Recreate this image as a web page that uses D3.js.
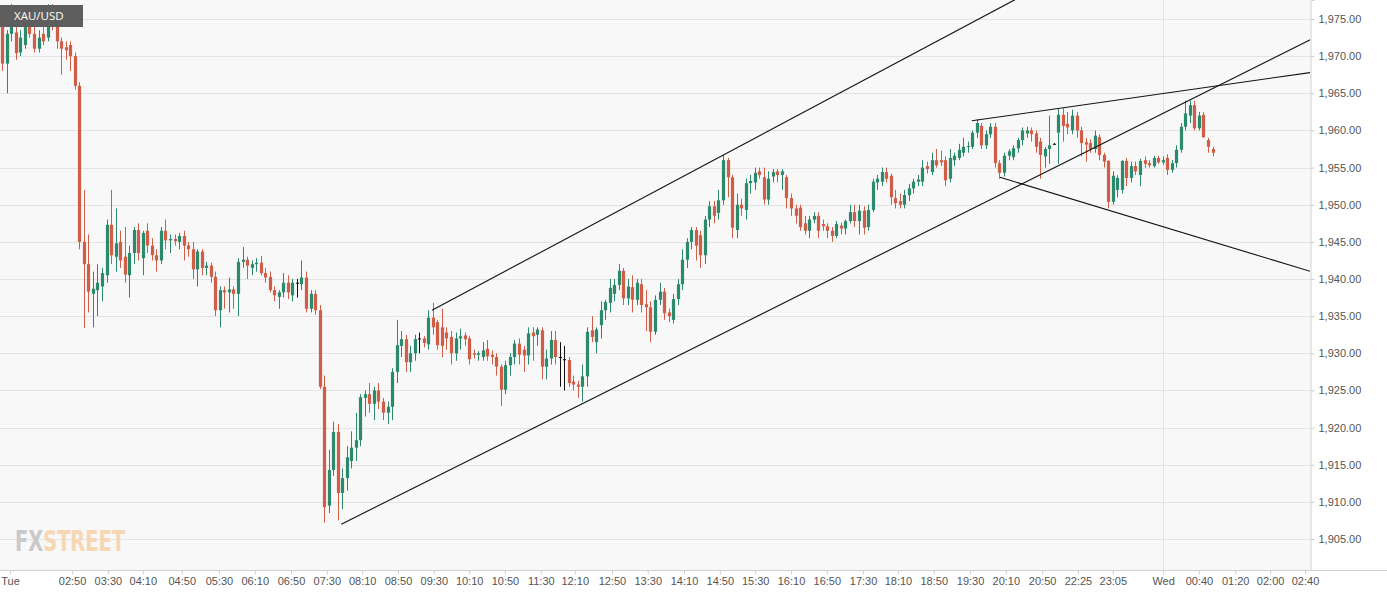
<!DOCTYPE html>
<html><head><meta charset="utf-8">
<script src="https://cdn.jsdelivr.net/npm/d3@7"></script>
<style>body{margin:0;background:#fff;font-family:"Open Sans",Arial,sans-serif}</style>
</head><body><div id="chart"></div>
<script>
// OHLC, 5-minute candles [open, high, low, close]; doji flagged separately
const candles = [
[1975,1975.5,1968,1969],[1969,1973.5,1965,1973],[1973,1977,1972,1976.5],
[1973.2,1974,1969.5,1970.4],[1970.5,1973.5,1970,1972.5],[1971.5,1975,1971,1974.5],
[1974.5,1975,1972.5,1973],[1973,1974,1970.5,1971],[1971,1973.5,1970.5,1972.5],[1973,1975,1971.5,1972],
[1972.5,1977,1972,1976.5],[1976.5,1977,1973.5,1974],[1974.5,1975,1971,1972],[1972,1972.5,1967.5,1971],
[1971.2,1972,1969.5,1970.8],[1971.5,1972,1968,1970],[1970,1970.5,1965.5,1966],[1966,1966.5,1944,1945],
[1945,1952,1933.4,1942],[1942,1946,1935.5,1938.3],[1938,1941,1933.5,1938.7],[1938.5,1942,1935,1939.5],
[1939,1941.5,1937,1940.8],[1940.5,1948,1939.5,1947.3],[1947.3,1952,1942,1943.2],[1943,1949.5,1941,1944.8],
[1945,1946.5,1941.5,1942.5],[1943,1947,1939.5,1940.6],[1940.5,1944.5,1937.5,1943.5],[1943.5,1947,1942,1946.6],
[1946.6,1947.5,1942.5,1943.5],[1942.8,1946.5,1940.5,1946.2],[1946.5,1947.5,1943.5,1944.5],[1944.5,1945.5,1942.5,1943.2],
[1943.2,1944,1941,1942.5],[1942.5,1947,1942,1946.5],[1946.5,1948,1944,1945.2],[1945.2,1946,1943.5,1945.4],[1945.4,1946,1944.5,1945.1],
[1945,1946.2,1944,1945.8],[1945.8,1946.5,1942.5,1944.5],[1944.5,1945,1943,1944],[1944,1945,1940,1941.3],
[1941.3,1944,1939,1943.7],[1943.7,1944,1940.5,1941.5],[1941.5,1942.3,1940.5,1941.8],[1941.8,1942.2,1939.5,1940.3],
[1940.3,1941,1935,1935.8],[1935.8,1939,1933.5,1938.5],[1938.5,1939,1936,1938.2],[1938.2,1940.2,1935.5,1938.6],
[1938.6,1939,1936,1938],[1938,1942.8,1935,1942.3],[1942.3,1944.3,1941.5,1942.6],[1942.6,1943,1940,1941.8],
[1941.5,1942.5,1940.5,1942],[1942,1942.8,1941,1942.2],[1942.2,1943.1,1940.5,1940.8],[1940.8,1941.5,1939.5,1940.2],[1940.3,1941,1938.2,1938.5],
[1938.5,1939,1937,1937.8],[1937.6,1938.5,1936,1938.2],[1938.2,1940.8,1937.5,1939.5],[1939.5,1940.5,1937.3,1938.2],
[1937.8,1940,1937,1939.5],[1939.5,1940,1937.5,1939.5],[1939.3,1942.5,1938.5,1940.2],[1940.2,1941,1935.5,1936],
[1936,1938.5,1935.5,1938],[1938,1938.5,1935.2,1935.8],[1935.8,1936.5,1925.2,1925.5],[1925.5,1927,1907.2,1909.3],
[1909.5,1917,1908.5,1914.3],[1914.3,1920.8,1913.5,1919.4],[1919.4,1920.5,1907.5,1911.2],[1911.2,1914.5,1909,1913.2],
[1913.2,1917.5,1911.5,1916],[1915.5,1919.5,1914.5,1917.3],[1917.3,1922,1915.5,1918.3],[1918.3,1924.5,1917.5,1924.1],
[1924,1925,1921.5,1924.5],[1924.5,1926,1922,1923.2],[1923.2,1925.5,1921,1925],[1925,1926,1922.5,1923.5],
[1923.5,1924,1921,1922],[1922,1923.5,1920.5,1922.8],[1922.8,1928,1921,1927.5],[1927.5,1934.5,1926,1931.1],
[1931,1933,1929.5,1931.9],[1931.9,1932.5,1927.5,1928.8],[1928.8,1931,1927.5,1930],[1930,1932.5,1929,1931.9],
[1931.9,1932.8,1930,1932],[1932,1932.3,1930.8,1931.4],[1931.2,1935.8,1930.5,1934.8],[1934.8,1936.8,1932.5,1933.5],
[1934.2,1934.5,1930.5,1931.1],[1933.5,1936,1929.5,1931],[1932.8,1933.5,1930.5,1932],[1932.2,1933,1928.5,1930],
[1930,1932.8,1929,1932],[1932,1933.3,1930.5,1932.3],[1932.4,1932.8,1931,1931.9],[1932,1932.3,1928.5,1929.2],
[1930,1930.5,1929.3,1929.8],[1929.8,1930.3,1929,1930],[1929.5,1931.5,1929,1930.4],[1930.6,1931.8,1929,1929.6],
[1929.8,1930.4,1928.5,1929.5],[1929.5,1930,1927,1928.2],[1928.2,1928.5,1922.9,1925.1],[1925.1,1929,1924.5,1928.4],
[1928.4,1930,1927,1929.5],[1929.5,1931.8,1928.5,1931.3],[1931.3,1932,1928.5,1929.8],[1930.5,1931,1927.5,1929.7],
[1929.7,1933.5,1928.5,1932.7],[1932.8,1933.5,1929,1932.3],[1932.5,1933.5,1931,1933.2],[1933.1,1933.5,1926.5,1928.2],
[1928.2,1930.5,1926.5,1929.3],[1929.3,1933,1928.5,1931.8],[1931.8,1933,1928.5,1929.5],[1929.5,1931.5,1925.5,1929.5],
[1929.2,1931,1925,1929.2],[1929.1,1929.5,1925.5,1926],[1926.2,1927,1925,1925.8],[1925.8,1926.3,1924,1925.5],
[1925.5,1928.5,1923.5,1926.9],[1926.9,1933.5,1925.5,1932.9],[1933.1,1935,1931.5,1932.2],[1931.5,1933.5,1930,1933.2],
[1933.8,1937,1932,1935.8],[1935.8,1937.2,1934.5,1936.9],[1936.8,1940,1935.5,1938.8],[1938,1940,1937,1939.2],
[1939.2,1942,1938.5,1941.1],[1941.1,1941.5,1936.5,1937.4],[1937.4,1940,1936.5,1939],[1938.9,1940.5,1935.5,1937.2],
[1937.2,1940,1936.5,1939.5],[1939.3,1940,1935.5,1936.5],[1936.6,1938.5,1933,1936.2],[1936.2,1937,1931.5,1932.9],
[1932.9,1937.8,1932.5,1937.2],[1937.2,1939.5,1936.5,1938.3],[1938.3,1938.8,1934.5,1935.4],[1935.5,1936,1934.2,1935],
[1934.5,1938,1934,1937.3],[1937.3,1940,1936.5,1939.3],[1939.3,1944,1938.5,1942.6],[1942.6,1945.5,1941.5,1945],
[1945,1947,1944,1946.6],[1946.6,1947,1942.5,1944.5],[1945.9,1946.5,1941.5,1943.2],[1943.2,1948.5,1942,1948],
[1948,1950.5,1947,1949.8],[1949.8,1950.5,1947.5,1948.5],[1948.9,1952,1948,1950.6],[1950.6,1956.7,1950,1956],
[1956,1956.3,1951,1953.7],[1953.7,1954,1945.5,1946.9],[1946.6,1951.5,1945.5,1950],[1950,1950.8,1948.5,1949.5],
[1949.3,1953.5,1948,1952.9],[1952.9,1954,1951.5,1953.2],[1953,1955,1952,1954.3],[1954.5,1955,1953.5,1954],
[1953.7,1955,1950,1950.7],[1950.7,1954.5,1950,1953.5],[1953.8,1954.8,1953,1954.4],[1954.5,1954.8,1953,1954],
[1954,1954.8,1952,1954.5],[1953.7,1954,1949.5,1950.9],[1950.9,1951.5,1948.5,1949.5],[1949.5,1950,1947.5,1948.5],
[1949.6,1950,1946.5,1947],[1947.5,1948.5,1946,1946.5],[1946.5,1948.5,1945.5,1948],[1948,1949,1947.5,1948.5],
[1948.5,1949,1945.5,1946.5],[1947.4,1948,1946.5,1947.1],[1947.1,1947.5,1945.5,1946.5],[1946.5,1947,1945,1945.8],
[1945.8,1947.8,1945.5,1947.4],[1947.2,1947.6,1946,1946.8],[1946.8,1948,1946,1947.8],[1947.8,1950,1947.5,1949],
[1949,1950,1947,1947.8],[1947.8,1950,1946,1949.2],[1949.2,1949.8,1946,1946.9],[1947,1950,1946.5,1949.3],
[1949.3,1953.5,1949,1953.1],[1953,1954,1952,1953.5],[1953.1,1955,1952.5,1954.4],[1954.4,1955,1953,1953.5],
[1953.9,1954.2,1950,1951],[1950.9,1952,1949.5,1950.2],[1950.5,1951.5,1949.5,1950],[1950,1952,1949.5,1951.3],
[1951.3,1952.8,1950.5,1952.2],[1952.2,1953.5,1951.5,1953.1],[1953.1,1954,1952.5,1953.4],[1953.1,1956,1952.5,1955],
[1955.2,1955.8,1954.2,1954.8],[1954.4,1957,1954,1956],[1956,1957.5,1955,1955.3],[1956,1957.3,1955.2,1955.7],
[1956,1956.5,1952.5,1953.3],[1953.5,1957.5,1953,1956.3],[1956,1957,1955.2,1956.6],[1956.3,1958.2,1956,1957.4],
[1957,1959,1956.5,1957.8],[1957.8,1958.5,1957,1957.9],[1957.8,1960,1957.5,1959.7],[1959.7,1961.5,1959,1961],
[1960.6,1961,1957.5,1958],[1958,1960,1957.5,1959.5],[1959.5,1961,1959,1960.5],[1960.5,1961,1955,1955.6],
[1955.6,1956,1953.5,1954.3],[1954.3,1957,1953.8,1956.6],[1956.6,1957.5,1956,1957.2],[1956.4,1958,1956,1957.6],
[1957.6,1959,1957,1958.7],[1958.7,1960.4,1958,1960],[1959.6,1960.5,1959,1960],[1960,1960.4,1958.5,1959.5],
[1959.6,1960,1957,1957.8],[1958.5,1959,1953.5,1956.7],[1956.5,1957.8,1955,1957.5],[1957.5,1962,1955.5,1958],
[1958.2,1958.3,1958.1,1958.2],[1959.7,1963,1955.5,1962.1],[1962.1,1963,1958.5,1960.6],[1960.9,1962.5,1959.5,1960.4],
[1960,1962.8,1959.5,1962],[1962,1962.5,1959,1960],[1960,1960.5,1956.5,1958.3],[1958.4,1959,1955.8,1958.1],
[1958.3,1958.8,1957,1957.5],[1957.5,1960,1957,1959.3],[1959.1,1959.5,1956,1956.7],[1956.7,1957,1955,1955.8],
[1955.9,1956,1949.5,1950.4],[1950.4,1954.5,1950,1953.9],[1952,1954,1951,1953.6],[1952,1956,1951.5,1955.9],
[1955.9,1956.3,1952.5,1953.6],[1953.6,1955.8,1953,1955.2],[1955.2,1955.8,1954,1954.5],[1954,1956.2,1952.5,1955.9],
[1956,1956.5,1955,1955.5],[1955.6,1956,1955,1955.3],[1955.2,1956.6,1955,1956.3],[1956.3,1956.6,1955.5,1955.7],
[1955.7,1956.5,1955.4,1956],[1956.3,1956.8,1954,1954.7],[1954.7,1956,1954.3,1955.6],[1955.6,1958,1955,1957.4],
[1957.4,1961,1957,1960.5],[1960.5,1964,1960,1962.3],[1962,1964,1961,1963.4],[1963.4,1964,1960,1960.3],
[1960.3,1962.5,1960,1962],[1962.1,1962.5,1959,1959.1],[1958.7,1959,1957,1957.8],[1957.5,1957.8,1956.5,1957]
]
const dojiIdx = [65, 92, 123, 124, 232]

const yTicks = [1905,1910,1915,1920,1925,1930,1935,1940,1945,1950,1955,1960,1965,1970,1975]
const xLabels = ["Tue","02:50","03:30","04:10","04:50","05:30","06:10","06:50","07:30","08:10","08:50","09:30","10:10","10:50","11:30","12:10","12:50","13:30","14:10","14:50","15:30","16:10","16:50","17:30","18:10","18:50","19:30","20:10","20:50","22:25","23:05","Wed","00:40","01:20","02:00","02:40"]
const xLabelIdx = [1.7,15.4,23.3,31.0,39.6,47.8,55.7,63.7,71.6,79.4,87.3,95.2,103.0,110.9,118.8,126.3,134.5,142.4,150.4,158.3,166.1,174.0,181.9,189.9,197.6,205.5,213.5,221.4,229.4,237.3,245.0,256.1,264.0,272.0,279.7,287.4]

// trend lines [index, price] pairs
const trendLines = [
  [[94.8,1935.8],[223.4,1977.6]],
  [[74.8,1907.0],[289.8,1972.6]],
  [[213.9,1961.3],[289.8,1967.9]],
  [[220.1,1953.7],[289.8,1940.8]]
]

const W = 1387, H = 598
const plotW = 1310, plotH = 570

const svg = d3.select("#chart").append("svg").attr("width", W).attr("height", H)

const x = d3.scaleLinear().domain([-0.5, 288.5]).range([0, plotW])
const y = d3.scaleLinear().domain([1900.83, 1977.56]).range([plotH, 0])

svg.append("rect").attr("width", plotW).attr("height", plotH).attr("fill", "#f8f8f8")

svg.append("defs").append("clipPath").attr("id", "clip")
  .append("rect").attr("width", plotW).attr("height", plotH)

// grid
svg.append("g").selectAll("line").data(yTicks).join("line")
  .attr("x1", 0).attr("x2", plotW)
  .attr("y1", d => Math.round(y(d)) + 0.5).attr("y2", d => Math.round(y(d)) + 0.5)
  .attr("stroke", "#e3e3e3")
svg.append("line").attr("x1", Math.round(x(256.1)) + 0.5).attr("x2", Math.round(x(256.1)) + 0.5)
  .attr("y1", 0).attr("y2", plotH).attr("stroke", "#e3e3e3")

// watermark
const wm = svg.append("text").attr("x", 15).attr("y", 551)
  .attr("font-family", "'DejaVu Sans Condensed', 'Liberation Sans Narrow', sans-serif").attr("font-weight", 700).attr("font-size", 29)
  .attr("textLength", 110).attr("lengthAdjust", "spacingAndGlyphs")
wm.append("tspan").attr("fill", "#c9c9c9").text("FX")
wm.append("tspan").attr("fill", "#f6d7b2").text("STREET")

// candles
const g = svg.append("g").attr("clip-path", "url(#clip)")
const colorOf = (d, i) => dojiIdx.includes(i) ? "#111" : (d[3] >= d[0] ? "#2b8a6e" : "#d05d45")
const bw = 3.2
const c = g.selectAll("g.c").data(candles).join("g")
c.append("line")
  .attr("x1", (d, i) => Math.round(x(i)) + 0.5).attr("x2", (d, i) => Math.round(x(i)) + 0.5)
  .attr("y1", d => y(d[1])).attr("y2", d => y(d[2]))
  .attr("stroke", colorOf).attr("stroke-width", 1)
c.append("rect")
  .attr("x", (d, i) => Math.round(x(i)) + 0.5 - bw / 2)
  .attr("width", bw)
  .attr("y", d => y(Math.max(d[0], d[3])))
  .attr("height", d => Math.max(1, Math.abs(y(d[0]) - y(d[3]))))
  .attr("fill", colorOf)

// trend lines
g.selectAll("path.t").data(trendLines).join("path")
  .attr("d", d3.line().x(d => x(d[0])).y(d => y(d[1])))
  .attr("stroke", "#111").attr("stroke-width", 1.1).attr("fill", "none")

// right axis
const yAxis = svg.append("g").attr("transform", `translate(${plotW + 0.5},0)`)
  .call(d3.axisRight(y).tickValues(yTicks).tickSize(4).tickFormat(d3.format(",.2f")))
yAxis.select(".domain").attr("stroke", "#cfcfcf")
yAxis.selectAll(".tick line").attr("stroke", "#cfcfcf")
yAxis.selectAll("text").attr("fill", "#555").attr("font-size", 11).attr("x", 8)

// bottom axis
const xAxis = svg.append("g").attr("transform", `translate(0,${plotH + 0.5})`)
  .call(d3.axisBottom(x).tickValues(xLabelIdx).tickSize(4).tickFormat((d, i) => xLabels[i]))
xAxis.select(".domain").attr("stroke", "#cfcfcf").attr("d", `M0,0H${W}`)
xAxis.selectAll(".tick line").attr("stroke", "#cfcfcf")
xAxis.selectAll("text").attr("fill", "#555").attr("font-size", 11).attr("y", 7)

// title badge
svg.append("rect").attr("x", 0).attr("y", 5).attr("width", 83).attr("height", 22).attr("fill", "#5e5e5e")
svg.append("text").attr("x", 14).attr("y", 20).attr("fill", "#fff").attr("font-size", 11.5).text("XAU/USD")
</script></body></html>
